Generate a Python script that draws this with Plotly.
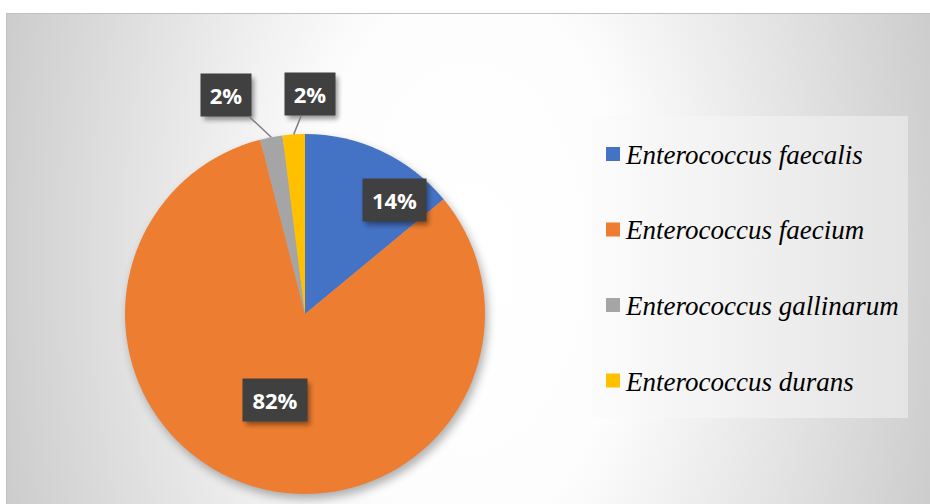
import base64
import math
import plotly.graph_objects as go

# ---- data ----
species = ["Enterococcus faecalis", "Enterococcus faecium",
           "Enterococcus gallinarum", "Enterococcus durans"]
counts = [7, 41, 1, 1]
colors = ["#4472C4", "#ED7D31", "#A5A5A5", "#FFC000"]

W, H = 930, 504
CX, CY, R = 305, 314, 180  # pie centre / radius in pixels (layout)

def px(x):
    return x / W

def py(y):
    return 1 - y / H

# label box placement (pixels) per slice
label_pos = [(394, 200), (275, 400), (226, 95), (310, 94)]
label_w = [63, 64, 50, 50]
label_h = 42

# ---- background (gradient panel, pie shadow, legend box) ----
svg = f'''<svg xmlns="http://www.w3.org/2000/svg" width="{W}" height="{H}" viewBox="0 0 {W} {H}">
<defs>
<radialGradient id="g" gradientUnits="userSpaceOnUse" cx="470" cy="258" r="540"
 gradientTransform="translate(470 258) scale(1 1.7) translate(-470 -258)">
<stop offset="0" stop-color="#ffffff"/><stop offset="0.3" stop-color="#fdfdfd"/>
<stop offset="1" stop-color="#c4c4c4"/></radialGradient>
<linearGradient id="lg" x1="0" x2="1" y1="0" y2="0">
<stop offset="0" stop-color="#fcfcfc"/><stop offset="1" stop-color="#e4e4e4"/></linearGradient>
<filter id="b" x="-20%" y="-20%" width="140%" height="140%"><feGaussianBlur stdDeviation="5"/></filter>
</defs>
<rect width="{W}" height="{H}" fill="#ffffff"/>
<rect x="6.5" y="13.5" width="930" height="500" fill="url(#g)" stroke="#c0c0c0" stroke-width="1"/>
<circle cx="{CX+3}" cy="{CY+5}" r="{R}" fill="#000" opacity="0.3" filter="url(#b)"/>
<rect x="592" y="116" width="316" height="302" fill="url(#lg)"/>
</svg>'''
uri = "data:image/svg+xml;base64," + base64.b64encode(svg.encode()).decode()

# soft drop shadows behind the label boxes
sh = "".join(
    f'<rect x="{lx - w / 2 + 3}" y="{ly - label_h / 2 + 4}" width="{w}" height="{label_h}" '
    f'fill="#000" opacity="0.4" filter="url(#s)"/>'
    for (lx, ly), w in zip(label_pos, label_w))
svg2 = f'''<svg xmlns="http://www.w3.org/2000/svg" width="{W}" height="{H}" viewBox="0 0 {W} {H}">
<defs><filter id="s" x="-30%" y="-30%" width="160%" height="160%"><feGaussianBlur stdDeviation="2.5"/></filter></defs>
{sh}</svg>'''
uri2 = "data:image/svg+xml;base64," + base64.b64encode(svg2.encode()).decode()

fig = go.Figure()
fig.add_trace(go.Pie(
    labels=species, values=counts, sort=False, direction="clockwise",
    rotation=0, marker=dict(colors=colors, line=dict(width=0)),
    textinfo="none", hoverinfo="label+percent", showlegend=False,
    domain=dict(x=[px(CX - R), px(CX + R)], y=[py(CY + R), py(CY - R)]),
))

total = sum(counts)
pcts = [f"{round(100 * c / total)}%" for c in counts]

annotations = []
cum = 0
for i, c in enumerate(counts):
    mid = (cum + c / 2) / total * 2 * math.pi
    cum += c
    lx, ly = label_pos[i]
    common = dict(text=f"<b>{pcts[i]}</b>", font=dict(family="Open Sans", size=22, color="white"),
                  bgcolor="#404040", width=label_w[i], height=label_h, borderpad=0,
                  xref="paper", yref="paper")
    if c / total < 0.05:
        ex = CX + R * math.sin(mid)
        ey = CY - R * math.cos(mid)
        annotations.append(dict(x=px(ex), y=py(ey), ax=lx - ex, ay=ly - ey,
                                showarrow=True, arrowhead=0, arrowwidth=1.5,
                                arrowcolor="#7f7f7f", **common))
    else:
        annotations.append(dict(x=px(lx), y=py(ly), showarrow=False,
                                xanchor="center", yanchor="middle", **common))

# legend
shapes = []
for i, name in enumerate(species):
    yc = 154 + 75.5 * i
    shapes.append(dict(type="rect", xref="paper", yref="paper",
                       x0=px(606), x1=px(620), y0=py(yc - 7), y1=py(yc + 7),
                       fillcolor=colors[i], line=dict(width=0)))
    annotations.append(dict(x=px(623), y=py(yc + 1), xref="paper", yref="paper",
                            text=name, showarrow=False, xanchor="left",
                            yanchor="middle",
                            font=dict(family="'Times New Roman', 'Liberation Serif', serif",
                                      size=27, color="black", style="italic")))

fig.update_layout(
    width=W, height=H, margin=dict(l=0, r=0, t=0, b=0),
    paper_bgcolor="white",
    images=[dict(source=uri, xref="paper", yref="paper", x=0, y=1, sizex=1, sizey=1,
                 xanchor="left", yanchor="top", sizing="stretch", layer="below"),
            dict(source=uri2, xref="paper", yref="paper", x=0, y=1, sizex=1, sizey=1,
                 xanchor="left", yanchor="top", sizing="stretch", layer="above")],
    annotations=annotations, shapes=shapes,
)
fig.write_html("out.html")
